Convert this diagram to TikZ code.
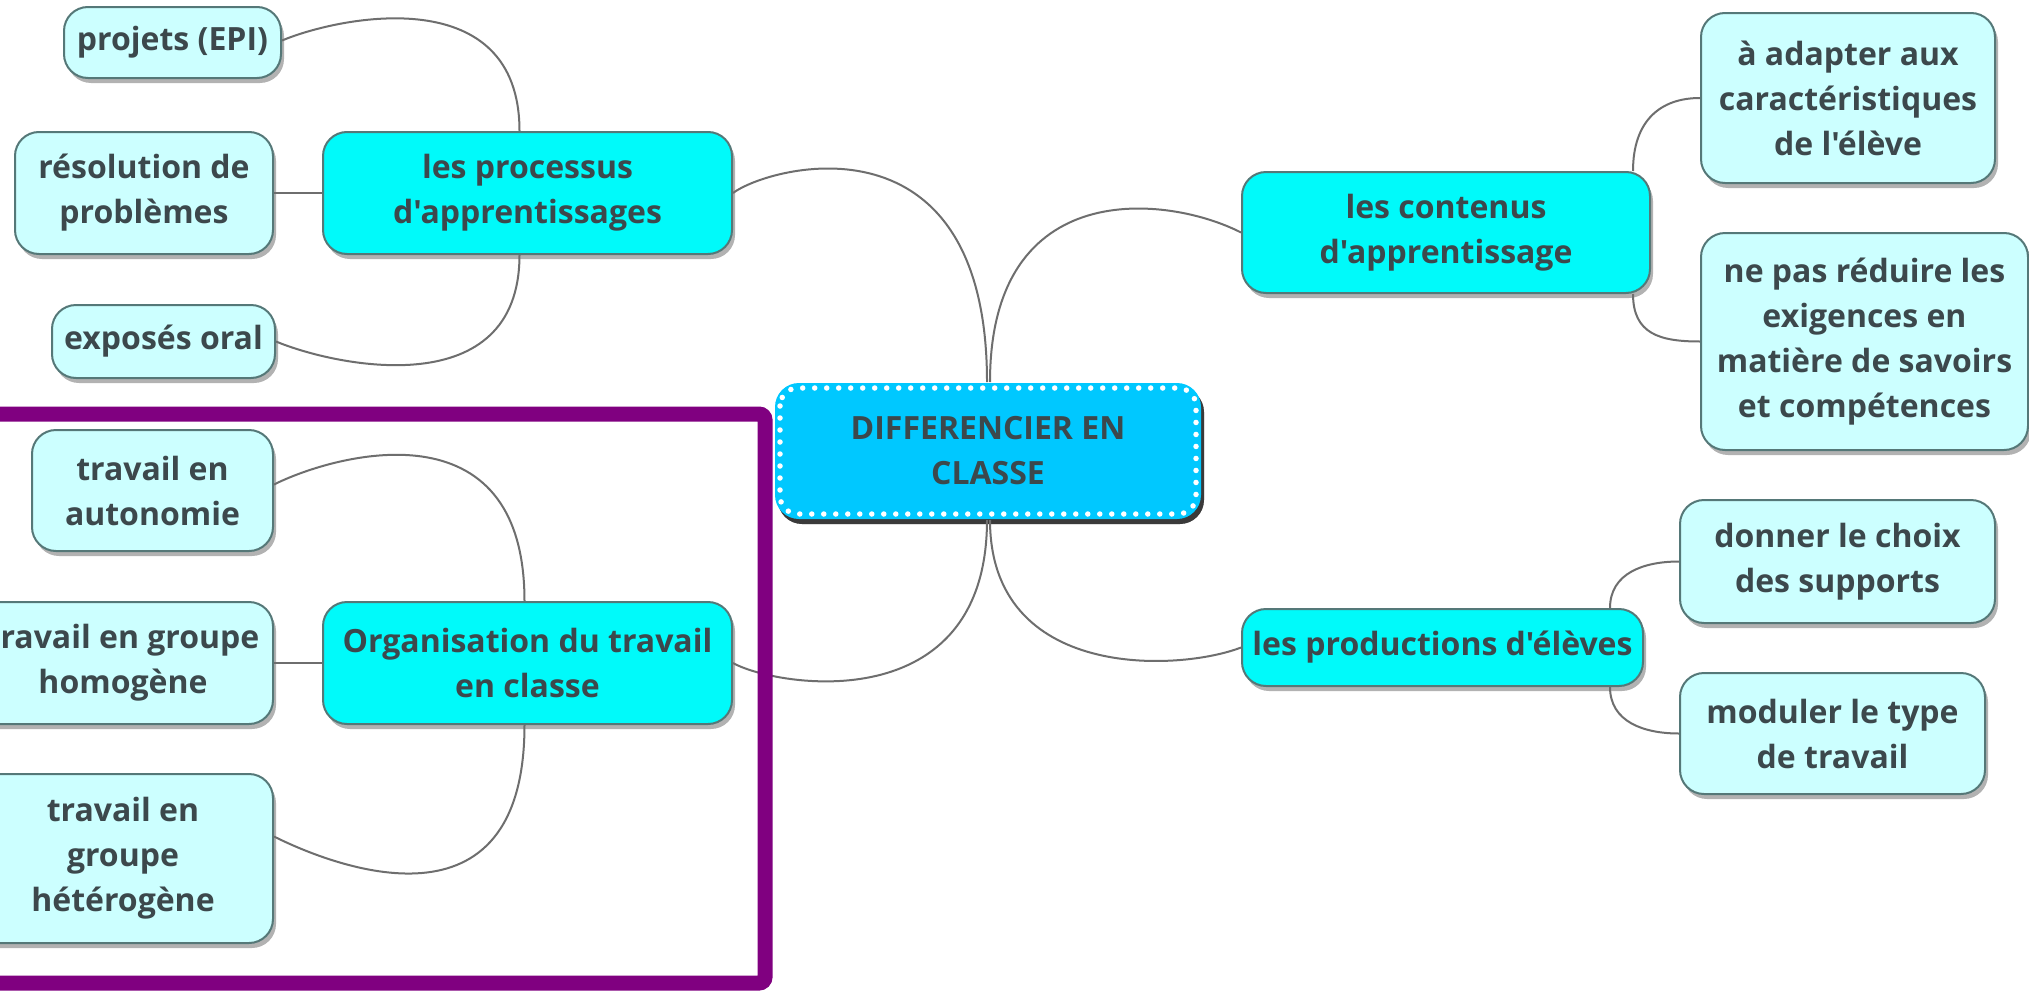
\documentclass[tikz,border=0pt]{standalone}
\usepackage{fontspec}
\newfontfamily\nf{Open Sans}[Ligatures=TeXOff]
\usetikzlibrary{calc,shadows}
\definecolor{cmain}{RGB}{0,250,250}
\definecolor{cleaf}{RGB}{204,255,255}
\definecolor{ccentral}{RGB}{0,200,255}
\definecolor{cedge}{RGB}{85,120,120}
\definecolor{ctext}{RGB}{60,72,76}
\definecolor{cline}{RGB}{110,110,110}
\definecolor{cframe}{RGB}{128,0,128}
\begin{document}
\begin{tikzpicture}[x=1pt,y=-1pt,
  box/.style={rounded corners=24pt, draw=cedge, line width=2pt, inner sep=0pt,
    align=center, text=ctext, font=\nf\bfseries\fontsize{32}{45}\selectfont,
    drop shadow={shadow xshift=3pt, shadow yshift=-5pt, opacity=0.3, fill=black}},
  leaf/.style={box, fill=cleaf},
  mainb/.style={box, fill=cmain},
  centralbox/.style={box, fill=ccentral, draw=none,
    drop shadow={shadow xshift=3pt, shadow yshift=-5pt, opacity=0.85, fill=black!85}},
  link/.style={draw=cline, line width=2pt},
  dots/.style={draw=white, line width=5.5pt, line cap=round, dash pattern=on 0pt off 12pt, rounded corners=18pt},
  frame/.style={draw=cframe, line width=15pt, rounded corners=6pt}]
\fill[white] (0,0) rectangle (2029,993);
\useasboundingbox (0,0) rectangle (2029,993);

% left-top group
\node[leaf, minimum width=217pt, minimum height=71pt] (projets) at (172.5,42.5) {projets (EPI)};
\node[leaf, minimum width=258pt, minimum height=122pt] (resolution) at (144,193) {résolution de\\problèmes};
\node[leaf, minimum width=223pt, minimum height=73pt] (exposes) at (163.5,341.5) {exposés oral};
\node[mainb, minimum width=409pt, minimum height=122pt] (processus) at (527.5,193) {les processus\\d'apprentissages};

% central
\node[centralbox, minimum width=426pt, minimum height=136pt] (central) at (988,451) {DIFFERENCIER EN\\CLASSE};
\draw[dots] ($(central.north west)+(6,6)$) rectangle ($(central.south east)+(-6,-6)$);

% left-bottom group
\node[leaf, minimum width=241pt, minimum height=121pt] (autonomie) at (152.5,490.5) {travail en\\autonomie};
\node[leaf, minimum width=300pt, minimum height=122pt] (homogene) at (123,663) {travail en groupe\\homogène};
\node[leaf, minimum width=300pt, minimum height=169pt] (heterogene) at (123,858.5) {travail en\\groupe\\hétérogène};
\node[mainb, minimum width=409pt, minimum height=122pt] (organisation) at (527.5,663) {Organisation du travail\\en classe};

% right-top group
\node[mainb, minimum width=408pt, minimum height=121pt] (contenus) at (1446,232.5) {les contenus\\d'apprentissage};
\node[leaf, minimum width=294pt, minimum height=170pt] (adapter) at (1848,98) {à adapter aux\\caractéristiques\\de l'élève};
\node[leaf, minimum width=327pt, minimum height=217pt] (nepas) at (1864.5,341.5) {ne pas réduire les\\exigences en\\matière de savoirs\\et compétences};

% right-bottom group
\node[mainb, minimum width=401pt, minimum height=77pt] (productions) at (1442.5,647.5) {les productions d'élèves};
\node[leaf, minimum width=315pt, minimum height=123pt] (donner) at (1837.5,561.5) {donner le choix\\des supports};
\node[leaf, minimum width=305pt, minimum height=121pt] (moduler) at (1832.5,733.5) {moduler le type\\de travail};

% connectors
\draw[link] ($(projets.east)+(0,-2)$) .. controls +(60,-25) and +(0,-150) .. ($(processus.north)+(-8,0)$);
\draw[link] (resolution.east) -- (processus.west);
\draw[link] (exposes.east) .. controls +(60,25) and +(0,150) .. ($(processus.south)+(-8,0)$);
\draw[link] ($(autonomie.east)+(0,-6)$) .. controls +(60,-30) and +(0,-200) .. ($(organisation.north)+(-3,0)$);
\draw[link] (homogene.east) -- (organisation.west);
\draw[link] ($(heterogene.east)+(0,-22)$) .. controls +(60,30) and +(0,216) .. ($(organisation.south)+(-3,0)$);
\draw[link] (processus.east) .. controls +(38,-28) and +(0,-273) .. ($(central.north)+(-1,0)$);
\draw[link] ($(central.north)+(2,0)$) .. controls +(0,-208) and +(-72,-37) .. (contenus.west);
\draw[link] (organisation.east) .. controls +(43,24) and +(0,201) .. ($(central.south)+(-1,0)$);
\draw[link] ($(central.south)+(2,0)$) .. controls +(0,161) and +(-62,24) .. (productions.west);
\draw[link] ($(contenus.north east)+(-18,0)$) .. controls +(0,-50) and +(-40,0) .. (adapter.west);
\draw[link] ($(contenus.south east)+(-18,0)$) .. controls +(0,40) and +(-40,0) .. (nepas.west);
\draw[link] ($(productions.north east)+(-34,0)$) .. controls +(0,-35) and +(-35,0) .. (donner.west);
\draw[link] ($(productions.south east)+(-34,0)$) .. controls +(0,35) and +(-35,0) .. (moduler.west);

% purple frame
\draw[frame] (-30,414) -- (765,414) -- (765,983) -- (-30,983);
\end{tikzpicture}
\end{document}
